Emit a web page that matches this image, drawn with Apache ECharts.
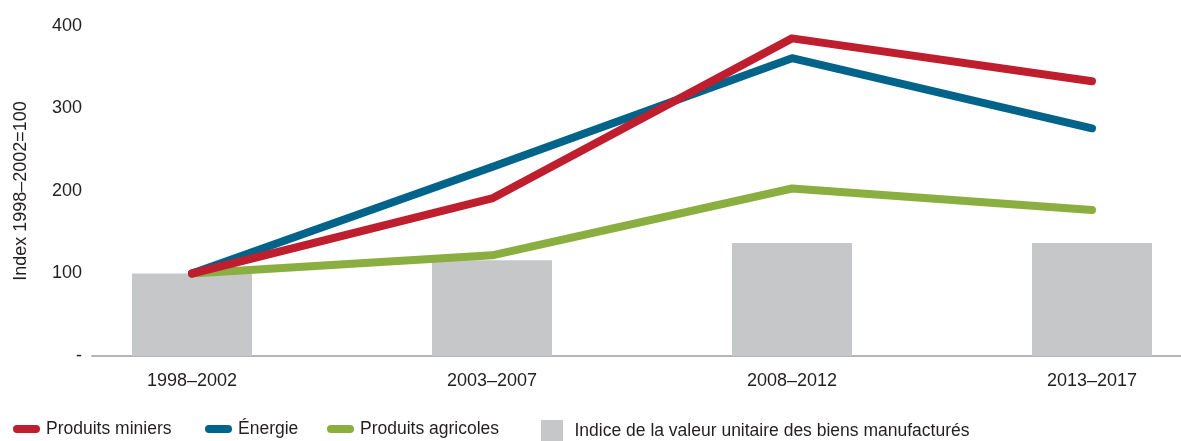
<!DOCTYPE html>
<html>
<head>
<meta charset="utf-8">
<script src="https://cdn.jsdelivr.net/npm/echarts@6/dist/echarts.min.js"></script>
<style>
  html, body { margin: 0; padding: 0; background: #fff; }
  #chart { width: 1181px; height: 441px; }
</style>
</head>
<body>
<div id="chart"></div>
<script>
// données
var categories = ['1998–2002', '2003–2007', '2008–2012', '2013–2017'];
var miniers = [100, 191, 385, 333];
var energie = [100, 229, 361, 276];
var agricoles = [100, 122, 203, 177];
var manufactures = [100, 116, 137, 137];
var yTicks = [0, 100, 200, 300, 400];

var FONT = '"Liberation Sans", Arial, sans-serif';
var TXT = '#231f20';

function pts(arr) {
    var out = [];
    for (var i = 0; i < arr.length; i++) out.push([i, arr[i]]);
    return out;
}

function lineSeries(name, arr, color, z) {
    return {
        name: name,
        type: 'line',
        data: pts(arr),
        symbol: 'none',
        z: z,
        lineStyle: { color: color, width: 8, cap: 'round', join: 'round' },
        itemStyle: { color: color }
    };
}

var lineIcon = 'path://M4,0h19a4,4 0 0 1 0,8h-19a4,4 0 0 1 0,-8z';
var boxIcon = 'path://M0,0h10v10h-10z';

function legendAt(name, left, icon, pad) {
    return {
        data: [{ name: name, icon: icon }],
        left: left,
        top: 420,
        padding: 0,
        itemWidth: 27,
        itemHeight: 22,
        selectedMode: false,
        textStyle: { fontFamily: FONT, fontSize: 17.5, color: TXT, padding: [0, 0, 0, pad || 1] }
    };
}

var chart = echarts.init(document.getElementById('chart'));
chart.setOption({
    animation: false,
    backgroundColor: '#fff',
    grid: { left: 92, right: 0, top: 26, bottom: 85, containLabel: false, outerBoundsMode: 'none' },
    legend: [
        legendAt('Produits miniers', 13, lineIcon),
        legendAt('Énergie', 205, lineIcon),
        legendAt('Produits agricoles', 327, lineIcon),
        legendAt('Indice de la valeur unitaire des biens manufacturés', 541, boxIcon, 4)
    ],
    xAxis: {
        type: 'value',
        min: -1 / 3,
        max: (1181 - 192) / 300,
        axisLine: { show: true, onZero: false, lineStyle: { color: '#b5b5b5', width: 2 } },
        axisTick: { show: false },
        splitLine: { show: false },
        axisLabel: {
            customValues: [0, 1, 2, 3],
            formatter: function (v) { return categories[Math.round(v)]; },
            margin: 16,
            fontFamily: FONT, fontSize: 18, color: TXT
        }
    },
    yAxis: {
        type: 'value',
        min: yTicks[0],
        max: yTicks[yTicks.length - 1],
        interval: 100,
        name: 'Index 1998–2002=100',
        nameLocation: 'middle',
        nameGap: 62,
        nameTextStyle: { fontFamily: FONT, fontSize: 18, color: TXT },
        axisLine: { show: false },
        axisTick: { show: false },
        splitLine: { show: false },
        axisLabel: {
            margin: 10,
            formatter: function (v) { return v === 0 ? '-' : v; },
            fontFamily: FONT, fontSize: 18, color: TXT
        }
    },
    series: [
        {
            name: 'Indice de la valeur unitaire des biens manufacturés',
            type: 'bar',
            data: pts(manufactures),
            barWidth: 120,
            z: 1,
            itemStyle: { color: '#c6c7c9' }
        },
        lineSeries('Produits agricoles', agricoles, '#8aae3f', 2),
        lineSeries('Énergie', energie, '#00648a', 3),
        lineSeries('Produits miniers', miniers, '#be1e2d', 4)
    ]
});
</script>
</body>
</html>
